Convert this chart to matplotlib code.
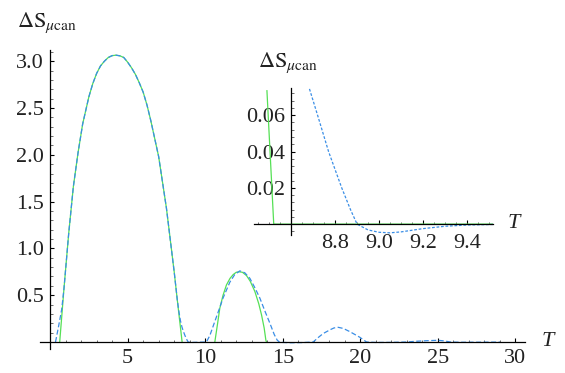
import matplotlib.pyplot as plt
from matplotlib.ticker import MultipleLocator, FixedLocator

plt.rcParams['font.family'] = ['Liberation Serif', 'DejaVu Serif']
plt.rcParams['mathtext.fontset'] = 'stix'

# main curves
green1_t = [0.62, 0.9, 1.2, 1.5, 1.8, 2.1, 2.5, 2.75, 3.0, 3.25, 3.5, 3.75, 4.0, 4.25, 4.5,
            4.75, 5.0, 5.25, 5.5, 5.75, 6.0, 6.25, 6.5, 7.0, 7.5, 8.0, 8.2, 8.47, 8.51]
green1_s = [0.0, 0.58, 1.16, 1.66, 2.02, 2.33, 2.62, 2.76, 2.87, 2.95, 3.00, 3.04, 3.06, 3.065,
            3.058, 3.04, 2.99, 2.93, 2.86, 2.77, 2.67, 2.53, 2.36, 1.98, 1.43, 0.75, 0.45,
            0.06, 0.0]
green2_t = [10.62, 10.8, 10.94, 11.15, 11.37, 11.6, 11.8, 12.0, 12.19, 12.4, 12.66, 12.9,
            13.2, 13.45, 13.63, 13.8, 13.91, 13.95]
green2_s = [0.0, 0.2, 0.36, 0.5, 0.61, 0.68, 0.72, 0.745, 0.75, 0.745, 0.71, 0.65,
            0.54, 0.41, 0.29, 0.15, 0.02, 0.0]

blue_t = [0.35, 0.55, 0.75, 0.9, 1.2, 1.5, 1.8, 2.1, 2.5, 2.75, 3.0, 3.25, 3.5, 3.75, 4.0,
          4.25, 4.5, 4.75, 5.0, 5.25, 5.5, 5.75, 6.0, 6.25, 6.5, 7.0, 7.5, 8.0, 8.2, 8.3, 8.4,
          8.5, 8.6, 8.68, 8.77, 8.83, 8.9, 9.05, 9.5,
          10.08, 10.3, 10.62, 10.9, 11.15, 11.59, 11.9, 12.23, 12.55, 12.88, 13.2, 13.52,
          13.85, 14.17, 14.45, 14.64, 14.8, 15.5, 16.3, 16.96, 17.3, 17.6, 18.04, 18.3,
          18.57, 18.9, 19.33, 19.65, 19.97, 20.4, 21.0, 22.0, 23.0, 23.6, 24.3, 25.0, 25.4,
          25.8, 26.5, 28.0, 29.0]
blue_s = [0.0, 0.17, 0.35, 0.58, 1.16, 1.66, 2.02, 2.33, 2.62, 2.76, 2.87, 2.95, 3.00, 3.04,
          3.06, 3.065, 3.058, 3.04, 2.99, 2.93, 2.86, 2.77, 2.67, 2.53, 2.36, 1.98, 1.43,
          0.75, 0.45, 0.33, 0.23, 0.16, 0.11, 0.075, 0.04, 0.02, 0.0, -0.005, -0.003,
          0.0, 0.07, 0.22, 0.35, 0.47, 0.64, 0.72, 0.76,
          0.74, 0.68, 0.58, 0.47, 0.33, 0.20, 0.08, 0.02, -0.003, -0.008, -0.006, 0.0, 0.05,
          0.09, 0.13, 0.15, 0.157, 0.145, 0.11, 0.08, 0.05, 0.0, -0.005, -0.004, 0.0, 0.008,
          0.014, 0.018, 0.012, 0.0, -0.003, -0.002, -0.001]

# inset (zoom near T = 9)
ins_green_t = [8.489, 8.52, 9.52]
ins_green_s = [0.0735, 0.0, 0.0]
ins_blue_t = [8.683, 8.72, 8.77, 8.83, 8.87, 8.90, 8.95, 9.0, 9.05, 9.1, 9.2, 9.3, 9.4, 9.52]
ins_blue_s = [0.0745, 0.06, 0.04, 0.02, 0.008, 0.0, -0.0032, -0.0045, -0.0048, -0.0043,
              -0.0025, -0.0012, -0.0005, -0.0002]

green = '#55e055'
blue = '#3a8ee6'
txt = '#222222'
ylabel = r'$\Delta\mathrm{S}_{\mu\mathrm{can}}$'

fig = plt.figure(figsize=(5.65, 3.73), dpi=100)

def axis_style(ax):
    for s in ['top', 'right']:
        ax.spines[s].set_visible(False)
    ax.spines['left'].set_position(('data', 0))
    ax.spines['bottom'].set_position(('data', 0))
    for s in ['left', 'bottom']:
        ax.spines[s].set_linewidth(0.9)
    ax.tick_params(which='major', direction='in', length=3.2, width=0.8,
                   labelsize=16, labelcolor=txt)
    ax.tick_params(which='minor', direction='in', length=1.8, width=0.6, color='#555555')
    ax.patch.set_alpha(0)

# main axes
ax = fig.add_axes([0.0708, 0.0643, 0.858, 0.8016])
ax.plot(green1_t, green1_s, color=green, lw=0.9)
ax.plot(green2_t, green2_s, color=green, lw=0.9)
ax.plot(blue_t, blue_s, color=blue, lw=0.9, dashes=(4, 2))
ax.set_xlim(-0.65, 30.6)
ax.set_ylim(-0.075, 3.12)
axis_style(ax)
ax.xaxis.set_major_locator(FixedLocator([5, 10, 15, 20, 25, 30]))
ax.xaxis.set_minor_locator(MultipleLocator(1))
ax.yaxis.set_major_locator(FixedLocator([0.5, 1.0, 1.5, 2.0, 2.5, 3.0]))
ax.yaxis.set_minor_locator(MultipleLocator(0.1))
ax.set_yticklabels(['0.5', '1.0', '1.5', '2.0', '2.5', '3.0'])
ax.tick_params(axis='x', pad=5)
ax.tick_params(axis='y', pad=4.5)

fig.text(17 / 565, 1 - 27 / 373, ylabel, fontsize=16, color=txt, ha='left', va='baseline')
fig.text(542 / 565, 1 - 342 / 373, 'T', fontsize=16, style='italic', color=txt,
         ha='left', va='center')

# inset axes
ax2 = fig.add_axes([254 / 565, 1 - 235 / 373, 239 / 565, 147 / 373])
ax2.plot(ins_green_t, ins_green_s, color=green, lw=0.9)
ax2.plot(ins_blue_t, ins_blue_s, color=blue, lw=0.9, dashes=(2.2, 1.4))
ax2.set_xlim(8.43, 9.52)
ax2.set_ylim(-0.006, 0.075)
axis_style(ax2)
ax2.spines['left'].set_position(('data', 8.6))
ax2.xaxis.set_major_locator(FixedLocator([8.8, 9.0, 9.2, 9.4]))
ax2.xaxis.set_minor_locator(MultipleLocator(0.05))
ax2.yaxis.set_major_locator(FixedLocator([0.02, 0.04, 0.06]))
ax2.yaxis.set_minor_locator(MultipleLocator(0.004))
ax2.set_xticklabels(['8.8', '9.0', '9.2', '9.4'])
ax2.set_yticklabels(['0.02', '0.04', '0.06'])
ax2.tick_params(axis='x', pad=7)
ax2.tick_params(axis='y', pad=4.5)

fig.text(258 / 565, 1 - 67 / 373, ylabel, fontsize=16, color=txt, ha='left', va='baseline')
fig.text(508 / 565, 1 - 224 / 373, 'T', fontsize=16, style='italic', color=txt,
         ha='left', va='center')

fig.savefig('out.png', dpi=100)
